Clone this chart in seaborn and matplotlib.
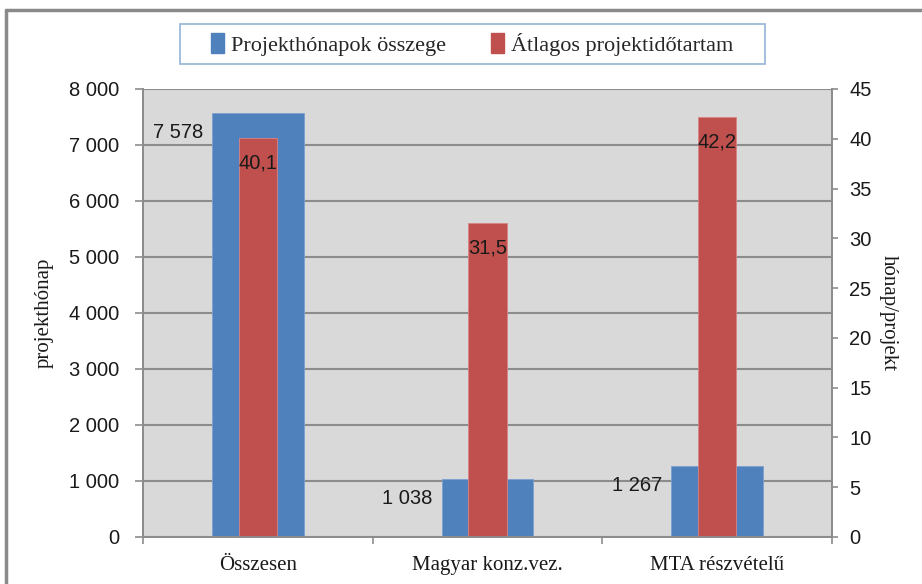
import matplotlib
matplotlib.use('Agg')
import matplotlib.pyplot as plt
import matplotlib.patches as mpatches
import matplotlib.lines as mlines
import pandas as pd
import seaborn as sns

categories = ['Összesen', 'Magyar konz.vez.', 'MTA részvételű']
projektho_ossz = [7578, 1038, 1267]
atlag_idotartam = [40.1, 31.5, 42.2]

blue = '#4f81bd'
red = '#c0504d'
grid_col = '#8c8c8c'
serif = ['Liberation Serif', 'DejaVu Serif']
sans = ['Liberation Sans', 'DejaVu Sans']

df = pd.DataFrame({'kat': categories, 'ossz': projektho_ossz, 'atl': atlag_idotartam})

sns.set_theme(style='white')
plt.rcParams['font.family'] = sans

fig = plt.figure(figsize=(9.22, 5.84), dpi=100)
ax = fig.add_axes([143 / 922, 1 - 537 / 584, 689 / 922, 448 / 584])
ax.set_facecolor('#d9d9d9')
ax2 = ax.twinx()

sns.barplot(data=df, x='kat', y='ossz', ax=ax, color=blue, saturation=1,
            width=0.4, edgecolor='#7a9fd0', linewidth=0.6)
sns.barplot(data=df, x='kat', y='atl', ax=ax2, color=red, saturation=1,
            width=0.168, edgecolor='#d78483', linewidth=0.6)

ax.set_ylim(0, 8000)
ax2.set_ylim(0, 45)
ax.set_xlim(-0.5, 2.5)
ax.set_yticks(range(0, 8001, 1000))
ax.set_yticklabels([f'{v:,}'.replace(',', ' ') for v in range(0, 8001, 1000)])
ax2.set_yticks(range(0, 46, 5))

ax.set_axisbelow(True)
ax.yaxis.grid(True, color=grid_col, linewidth=1.5)
ax.xaxis.grid(False)
ax2.grid(False)

for a in (ax, ax2):
    a.spines['top'].set_visible(False)
    for s in ('left', 'right', 'bottom'):
        a.spines[s].set_color('#8c8c8c')
        a.spines[s].set_linewidth(1.3)

ax.tick_params(axis='y', which='major', left=True, length=6, width=1.2, color=grid_col,
               pad=11, labelsize=14.5, labelcolor='#1a1a1a')
ax2.tick_params(axis='y', which='major', right=True, length=4.5, width=1.2, color=grid_col,
                pad=8, labelsize=14.5, labelcolor='#1a1a1a')
ax.set_xticks([0, 1, 2])
ax.set_xticks([-0.5, 0.5, 1.5, 2.5], minor=True)
ax.tick_params(axis='x', which='major', length=0, pad=14)
ax.tick_params(axis='x', which='minor', bottom=True, length=5, width=1.2, color=grid_col)
for lab in ax.get_xticklabels():
    lab.set_fontfamily(serif)
    lab.set_fontsize(15)
    lab.set_color('#1a1a1a')

ax.set_xlabel('')
ax.set_ylabel('projekthónap', family=serif, fontsize=15, color='#1a1a1a', labelpad=11)
ax2.set_ylabel('hónap/projekt', family=serif, fontsize=15, color='#1a1a1a',
               rotation=270, labelpad=19)

# value labels
for i, v in enumerate(projektho_ossz):
    ax.annotate(f'{v:,}'.replace(',', ' '), xy=(i - 0.2, v), xytext=(-6.5, -14),
                textcoords='offset points', ha='right', va='center',
                fontsize=14.5, color='#1a1a1a')
for i, v in enumerate(atlag_idotartam):
    ax2.annotate(f'{v:.1f}'.replace('.', ','), xy=(i, v), xytext=(0, -18),
                 textcoords='offset points', ha='center', va='center',
                 fontsize=14.5, color='#1a1a1a')

# legend
h1 = mpatches.Patch(color=blue, label='Projekthónapok összege')
h2 = mpatches.Patch(color=red, label='Átlagos projektidőtartam')
fig.legend(handles=[h1, h2], loc='center', bbox_to_anchor=(472 / 922, 1 - 44 / 584),
           ncol=2, frameon=False, prop={'family': serif, 'size': 16},
           handlelength=0.6, handleheight=1.0, handletextpad=0.3, columnspacing=2.0)
fig.patches.append(mpatches.Rectangle((180 / 922, 1 - 64 / 584), 585 / 922, 40 / 584,
                                      transform=fig.transFigure, fill=False,
                                      edgecolor='#95b3d7', linewidth=1.2))

# outer frame (top and left only)
fig.add_artist(mlines.Line2D([6 / 922, 1], [1 - 10 / 584, 1 - 10 / 584],
                             transform=fig.transFigure, color='#8a8a8a', linewidth=2.5))
fig.add_artist(mlines.Line2D([6 / 922, 6 / 922], [0, 1 - 10 / 584],
                             transform=fig.transFigure, color='#8a8a8a', linewidth=2.5))

fig.savefig('out.png', dpi=100, facecolor='white')
